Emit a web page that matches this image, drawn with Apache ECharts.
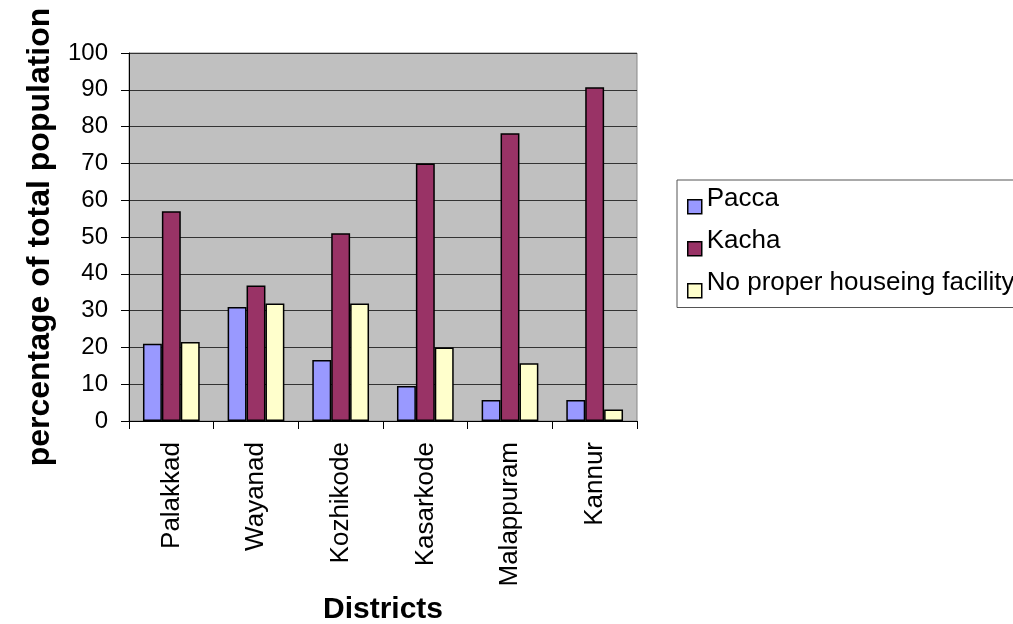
<!DOCTYPE html>
<html>
<head>
<meta charset="utf-8">
<script src="https://cdn.jsdelivr.net/npm/echarts@6/dist/echarts.min.js"></script>
<style>
html,body{margin:0;padding:0;background:#fff;}
#main{width:1013px;height:624px;}
</style>
</head>
<body>
<div id="main"></div>
<script>
var districts = ['Palakkad', 'Wayanad', 'Kozhikode', 'Kasarkode', 'Malappuram', 'Kannur'];
var pacca = [21, 31, 16.6, 9.5, 5.7, 5.7];
var kacha = [57, 36.8, 51, 70, 78.2, 90.7];
var noProper = [21.5, 31.9, 31.9, 20, 15.7, 3.1];
var yTicks = [0, 10, 20, 30, 40, 50, 60, 70, 80, 90, 100];

var FONT = '"Liberation Sans", Arial, sans-serif';
var chart = echarts.init(document.getElementById('main'));

function bar(name, data, color) {
  return {
    name: name,
    type: 'bar',
    data: data,
    barGap: '0%',
    barCategoryGap: '33%',
    itemStyle: { color: color, borderColor: '#000', borderWidth: 1.5 },
    emphasis: { disabled: true },
    animation: false
  };
}

chart.setOption({
  backgroundColor: '#fff',
  animation: false,
  textStyle: { fontFamily: FONT },
  grid: {
    left: 129, top: 53, right: 376, bottom: 203,
    containLabel: false,
    outerBoundsMode: 'none',
    show: true, backgroundColor: '#c0c0c0', borderColor: '#888', borderWidth: 1
  },
  legend: {
    orient: 'vertical',
    left: 677, top: 180,
    padding: [3, 10, 9, 10],
    itemGap: 10.5,
    itemWidth: 14, itemHeight: 30,
    icon: 'path://M0,0 M0,16 L14,16 L14,30 L0,30 Z',
    borderColor: '#555', borderWidth: 1,
    backgroundColor: '#fff',
    itemStyle: { borderColor: '#000', borderWidth: 1.5 },
    textStyle: { fontSize: 26, color: '#000', fontFamily: FONT, lineHeight: 26 },
    data: ['Pacca', 'Kacha', 'No proper houseing facility']
  },
  xAxis: {
    type: 'category',
    data: districts,
    name: 'Districts',
    nameLocation: 'middle',
    nameGap: 171,
    nameTextStyle: { fontSize: 30, fontWeight: 'bold', color: '#000', fontFamily: FONT },
    axisLine: { lineStyle: { color: '#000', width: 1 } },
    axisTick: { show: true, length: 8, lineStyle: { color: '#000' } },
    axisLabel: { rotate: 90, fontSize: 26, color: '#000', margin: 21, fontFamily: FONT },
    splitLine: { show: false }
  },
  yAxis: {
    type: 'value',
    min: 0, max: 100, interval: 10,
    name: 'percentage of total population',
    nameLocation: 'middle',
    nameGap: 73,
    nameRotate: 90,
    nameTextStyle: { fontSize: 32, fontWeight: 'bold', color: '#000', fontFamily: FONT },
    axisLine: { show: true, lineStyle: { color: '#000', width: 1 } },
    axisTick: { show: true, length: 8, lineStyle: { color: '#000' } },
    axisLabel: {
      fontSize: 24, color: '#000', margin: 21, fontFamily: FONT,
      formatter: function (v) { return yTicks.indexOf(v) >= 0 ? String(v) : ''; }
    },
    splitLine: { show: true, lineStyle: { color: '#333', width: 1 } }
  },
  series: [
    bar('Pacca', pacca, '#9999ff'),
    bar('Kacha', kacha, '#993366'),
    bar('No proper houseing facility', noProper, '#ffffcc')
  ]
});
</script>
</body>
</html>
